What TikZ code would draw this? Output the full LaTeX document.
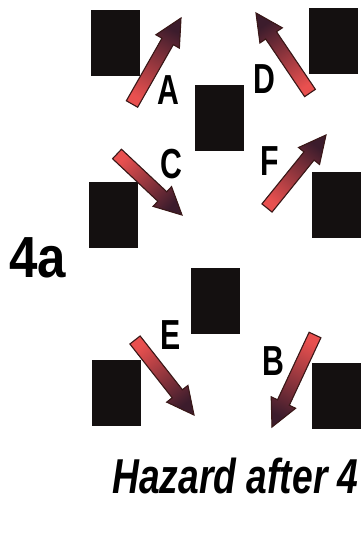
\documentclass[tikz,border=0pt]{standalone}
\usepackage{fontspec}
\setmainfont{Liberation Sans}
\usetikzlibrary{calc}
\definecolor{Pfeilrot}{HTML}{E8504F}
\definecolor{Pfeildunkel}{HTML}{3C1C2C}
\definecolor{Rand}{HTML}{3A1818}
\definecolor{Klotz}{HTML}{141010}
\tikzset{
  klotz/.style    = {rectangle, fill=Klotz, draw=none,
                     minimum width=49pt, minimum height=66pt, inner sep=0pt},
  buchst/.style   = {font=\fontsize{42}{42}\selectfont\bfseries, inner sep=0pt,
                     xscale=0.72},
  pfeilstil/.style= {draw=Rand, line width=1.1pt, line join=miter,
                     top color=Pfeilrot, bottom color=Pfeildunkel},
}
% fat shaded arrow from tail #1 to tip #2, #3 = shading angle
\newcommand\dickpfeil[3]{%
  \filldraw[pfeilstil, shading angle=#3]
    ($(#1)!6.5pt!90:(#2)$)
    -- ($(#2)!27pt!(#1)!6.5pt!-90:(#1)$)
    -- ($(#2)!27pt!(#1)!13.5pt!-90:(#1)$)
    -- (#2)
    -- ($(#2)!27pt!(#1)!13.5pt!90:(#1)$)
    -- ($(#2)!27pt!(#1)!6.5pt!90:(#1)$)
    -- ($(#1)!6.5pt!-90:(#2)$) -- cycle;}

\begin{document}
\begin{tikzpicture}[x=1pt, y=1pt]
  \useasboundingbox (0,0) rectangle (364,533);

  % blocks
  \node[klotz] (s1) at (115.5,490)   {};
  \node[klotz] (s2) at (333.5,491.5) {};
  \node[klotz] (s3) at (219.5,415)   {};
  \node[klotz] (s4) at (113,318)     {};
  \node[klotz] (s5) at (336,327.5)   {};
  \node[klotz] (s6) at (215.5,232)   {};
  \node[klotz] (s7) at (116.5,139.5) {};
  \node[klotz] (s8) at (336,136.5)   {};

  % arrow ends
  \coordinate (aT) at (132,429);  \coordinate (aH) at (181,515);
  \coordinate (dT) at (310,440);  \coordinate (dH) at (256,520);
  \coordinate (cT) at (117,379);  \coordinate (cH) at (182,318);
  \coordinate (fT) at (267,325);  \coordinate (fH) at (326,398);
  \coordinate (eT) at (135,193);  \coordinate (eH) at (194,118);
  \coordinate (bT) at (315,198);  \coordinate (bH) at (272,106);

  \dickpfeil{aT}{aH}{150}
  \dickpfeil{dT}{dH}{214}
  \dickpfeil{cT}{cH}{46}
  \dickpfeil{fT}{fH}{141}
  \dickpfeil{eT}{eH}{38}
  \dickpfeil{bT}{bH}{-25}

  % letters
  \node[buchst] (la) at (168.5,443) {A};
  \node[buchst] (ld) at (264,454)   {D};
  \node[buchst] (lc) at (171.5,369) {C};
  \node[buchst] (lf) at (270,372)   {F};
  \node[buchst] (le) at (170.5,198) {E};
  \node[buchst] (lb) at (273,172)   {B};

  \node[font=\fontsize{58}{58}\selectfont\bfseries, inner sep=0pt, xscale=0.88]
        (nummer) at (37.5,275.5) {4a};
  \node[font=\fontsize{49}{49}\selectfont\bfseries\itshape, inner sep=0pt, xscale=0.76]
        (titel) at (235.5,57.5) {Hazard after 4};
\end{tikzpicture}
\end{document}
